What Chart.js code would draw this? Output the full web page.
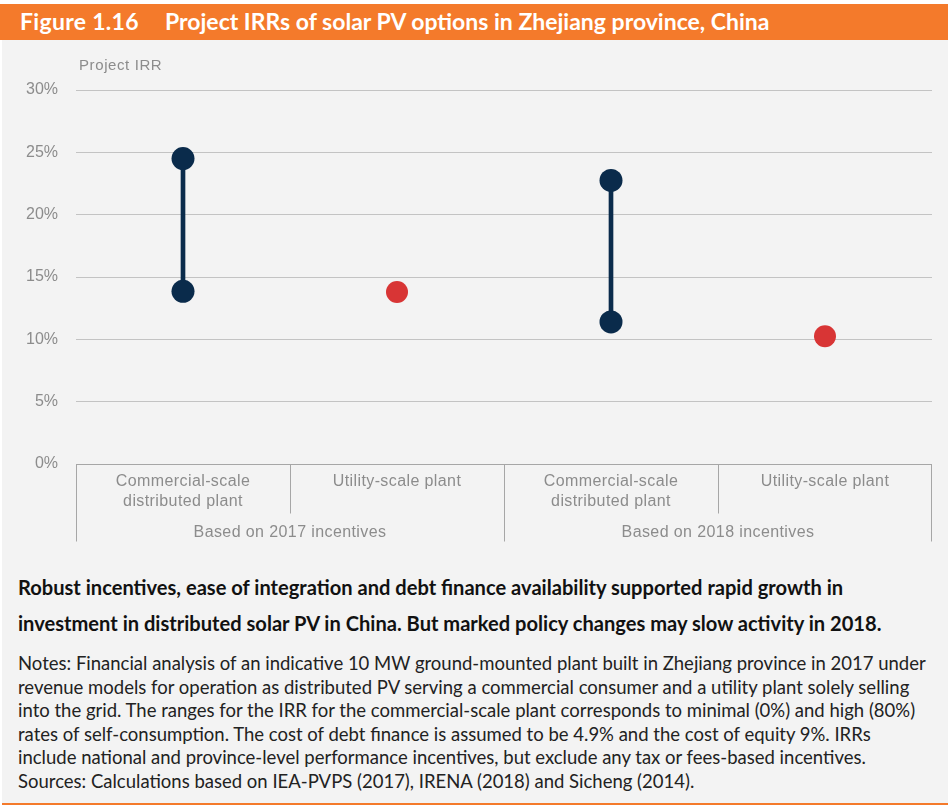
<!DOCTYPE html>
<html>
<head>
<meta charset="utf-8">
<script src="https://cdn.jsdelivr.net/npm/chart.js@4.4.1/dist/chart.umd.min.js"></script>
<style>
  html, body { margin: 0; padding: 0; background: #fff; }
  #page { position: relative; width: 948px; height: 806px; overflow: hidden; font-variant-ligatures: none; }
  #titlebar { position: absolute; left: 0; top: 4px; width: 948px; height: 36px; background: #F47A2B; }
  #titlebar span { position: absolute; top: 3px; color: #fff; font: bold 23px Lato, sans-serif; white-space: nowrap; }
  #panel { position: absolute; left: 2px; top: 40px; width: 946px; height: 763px; background: #F3F3F3; border-bottom: 2px solid #F47A2B; }
  #chartWrap { position: absolute; left: 0; top: 40px; width: 948px; height: 520px; }
  #headline { position: absolute; left: 18px; top: 569px; width: 925px; font: bold 20.1px Lato, sans-serif; line-height: 36px; color: #111; white-space: nowrap; }
  #notes { position: absolute; left: 18px; top: 652px; width: 928px; font: 18.5px Lato, sans-serif; line-height: 23.5px; color: #222; white-space: nowrap; }
</style>
</head>
<body>
<div id="page">
  <div id="panel"></div>
  <div id="titlebar"><span style="left:20px;letter-spacing:0.3px">Figure 1.16</span><span style="left:165px">Project IRRs of solar PV options in Zhejiang province, China</span></div>
  <div id="chartWrap"><canvas id="myChart" width="948" height="520"></canvas></div>
  <div id="headline">Robust incentives, ease of integration and debt finance availability supported rapid growth in<br>investment in distributed solar PV in China. But marked policy changes may slow activity in 2018.</div>
  <div id="notes">Notes: Financial analysis of an indicative 10 MW ground-mounted plant built in Zhejiang province in 2017 under<br>revenue models for operation as distributed PV serving a commercial consumer and a utility plant solely selling<br>into the grid. The ranges for the IRR for the commercial-scale plant corresponds to minimal (0%) and high (80%)<br>rates of self-consumption. The cost of debt finance is assumed to be 4.9% and the cost of equity 9%. IRRs<br>include national and province-level performance incentives, but exclude any tax or fees-based incentives.<br>Sources: Calculations based on IEA-PVPS (2017), IRENA (2018) and Sicheng (2014).</div>
</div>
<script>
// categories (two-line labels) and their groups
var categories = [
  ["Commercial-scale", "distributed plant"],
  ["Utility-scale plant"],
  ["Commercial-scale", "distributed plant"],
  ["Utility-scale plant"]
];
var groups = ["Based on 2017 incentives", "Based on 2018 incentives"];

// project IRR, %
var irrLow = [13.85, null, 11.4, null];
var irrHigh = [24.5, null, 22.75, null];
var irrUtility = [null, 13.8, null, 10.25];

var yMin = 0, yMax = 30, yStep = 5;
var axisTitle = "Project IRR";

var navy = "#0A2B4B";
var red = "#D83535";
var axisFont = '"Liberation Sans Narrow", "Liberation Sans", Arial, sans-serif';

var rangeData = irrLow.map(function (v, i) {
  return v == null ? null : [v, irrHigh[i]];
});

var catAxisPlugin = {
  id: "catAxis",
  afterDraw: function (chart) {
    var ctx = chart.ctx;
    var x = chart.scales.x;
    var y = chart.scales.y;
    var area = chart.chartArea;
    var y0 = Math.round(y.getPixelForValue(0)) + 0.5;
    var step = (area.right - area.left) / categories.length;

    ctx.save();
    ctx.strokeStyle = "#A6A6A6";
    ctx.lineWidth = 1;
    ctx.beginPath();
    ctx.moveTo(area.left, y0);
    ctx.lineTo(area.right, y0);
    for (var i = 0; i <= categories.length; i++) {
      var xx = Math.round(area.left + i * step) + 0.5;
      if (i == categories.length) xx = Math.round(area.right) - 0.5;
      var long = (i % 2 == 0);
      ctx.moveTo(xx, y0);
      ctx.lineTo(xx, y0 + (long ? 77 : 49));
    }
    ctx.stroke();

    ctx.fillStyle = "#8C8C8C";
    ctx.font = "16px " + axisFont;
    ctx.letterSpacing = "0.4px";
    ctx.textAlign = "center";
    ctx.textBaseline = "middle";
    categories.forEach(function (lines, i) {
      var cx = x.getPixelForValue(i);
      lines.forEach(function (t, j) {
        ctx.fillText(t, cx, y0 + 17 + j * 20.5);
      });
    });
    groups.forEach(function (g, k) {
      var cx = area.left + (k * 2 + 1) * step;
      ctx.fillText(g, cx, y0 + 68);
    });

    ctx.textAlign = "left";
    ctx.font = "15px " + axisFont;
    ctx.letterSpacing = "0.6px";
    ctx.fillText(axisTitle, area.left + 3, area.top - 24);
    ctx.restore();
  }
};

Chart.defaults.font.family = axisFont;

new Chart(document.getElementById("myChart").getContext("2d"), {
  data: {
    labels: categories,
    datasets: [{
      type: "line",
      data: irrHigh,
      showLine: false,
      pointRadius: 11.5,
      pointBackgroundColor: navy,
      pointBorderWidth: 0,
      order: 1
    }, {
      type: "line",
      data: irrLow,
      showLine: false,
      pointRadius: 11.5,
      pointBackgroundColor: navy,
      pointBorderWidth: 0,
      order: 1
    }, {
      type: "line",
      data: irrUtility,
      showLine: false,
      pointRadius: 11,
      pointBackgroundColor: red,
      pointBorderWidth: 0,
      order: 1
    }, {
      type: "bar",
      data: rangeData,
      backgroundColor: navy,
      barThickness: 4,
      grouped: false,
      order: 2
    }]
  },
  options: {
    responsive: false,
    animation: false,
    events: [],
    layout: { padding: { top: 50, right: 16, left: 0, bottom: 0 } },
    plugins: {
      legend: { display: false },
      tooltip: { enabled: false }
    },
    scales: {
      x: {
        type: "category",
        offset: true,
        grid: { display: false },
        border: { display: false },
        ticks: { display: false },
        afterFit: function (scale) { scale.height = 96; }
      },
      y: {
        min: yMin,
        max: yMax,
        border: { display: false },
        grid: {
          drawTicks: false,
          color: function (c) { return c.tick.value == 0 ? "rgba(0,0,0,0)" : "#C3C3C3"; },
          lineWidth: 1
        },
        ticks: {
          stepSize: yStep,
          padding: 18,
          color: "#8C8C8C",
          font: { size: 16 },
          callback: function (v) { return v + "%"; }
        },
        afterFit: function (scale) { scale.width = 76; }
      }
    }
  },
  plugins: [catAxisPlugin]
});
</script>
</body>
</html>
